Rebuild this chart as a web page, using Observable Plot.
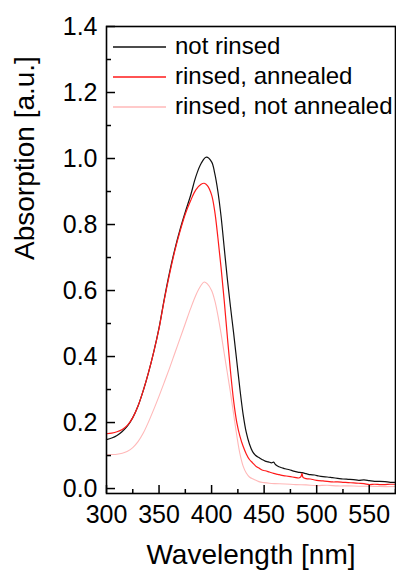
<!DOCTYPE html>
<html>
<head>
<meta charset="utf-8">
<script src="https://cdn.jsdelivr.net/npm/d3@7"></script>
<script src="https://cdn.jsdelivr.net/npm/@observablehq/plot@0.6"></script>
<style>
  html, body { margin: 0; padding: 0; background: #fff; }
  #wrap { position: relative; width: 396px; height: 574px; font-family: "Liberation Sans", Arial, sans-serif; }
  #legend { position: absolute; left: 113px; top: 31px; font-size: 24px; color: #000; }
  .row { position: relative; height: 30px; line-height: 30px; white-space: nowrap; }
  .sw { position: absolute; left: 0; top: 15px; width: 53px; height: 2px; overflow: visible; }
  .lb { position: absolute; left: 62px; top: 0; }
</style>
</head>
<body>
<div id="wrap"><div id="legend"></div></div>
<script>
// ---- data ----
const seriesNames = ["not rinsed", "rinsed, annealed", "rinsed, not annealed"];
const seriesColors = ["#111111", "#ff1a1a", "#ffb8b8"];

const notRinsedWl = [300,305,310,315,320,325,330,335,340,345,350,355,360,365,370,375,380,385,390,395,400,403,406,409,412,415,418,421,424,427,430,433,436,439,442,445,448,451,454,457,459,461,464,467,470,474,478,482,486,490,494,498,502,506,510,515,520,525,530,535,540,545,550,555,560,565,570,575];
const notRinsedA = [0.148,0.153,0.161,0.173,0.19,0.215,0.25,0.297,0.352,0.415,0.487,0.575,0.655,0.725,0.785,0.838,0.888,0.945,0.985,1.004,0.99,0.955,0.9,0.825,0.73,0.635,0.55,0.47,0.385,0.3,0.225,0.17,0.135,0.112,0.1,0.094,0.088,0.083,0.081,0.078,0.08,0.072,0.066,0.063,0.06,0.057,0.053,0.05,0.048,0.045,0.042,0.041,0.038,0.036,0.035,0.033,0.031,0.029,0.028,0.027,0.025,0.026,0.024,0.022,0.022,0.021,0.019,0.019];

const annealedWl = [300,305,310,315,320,325,330,335,340,345,350,355,360,365,370,375,380,385,390,393,396,400,403,406,409,412,415,418,421,424,427,430,433,436,439,442,445,448,451,455,459,463,467,471,475,479,483,485,486,487,490,494,498,502,506,510,515,520,525,530,535,540,545,550,555,560,565,570,575];
const annealedA = [0.166,0.168,0.172,0.179,0.192,0.215,0.25,0.297,0.352,0.414,0.485,0.572,0.65,0.72,0.78,0.832,0.872,0.905,0.922,0.925,0.918,0.89,0.84,0.76,0.67,0.57,0.46,0.355,0.265,0.2,0.158,0.128,0.105,0.088,0.078,0.068,0.062,0.056,0.054,0.05,0.046,0.043,0.04,0.038,0.036,0.034,0.032,0.036,0.046,0.034,0.03,0.029,0.026,0.024,0.023,0.022,0.02,0.02,0.019,0.018,0.017,0.016,0.015,0.012,0.013,0.012,0.012,0.013,0.013];

const notAnnealedWl = [300,305,310,315,320,325,330,335,340,345,350,355,360,365,370,375,380,385,390,393,396,400,403,406,409,412,415,418,421,424,427,430,433,436,440,445,450,455,460,470,480,490,500,510,520,530,540,550,560,575];
const notAnnealedA = [0.102,0.103,0.104,0.107,0.113,0.124,0.142,0.168,0.202,0.24,0.28,0.322,0.365,0.41,0.455,0.5,0.545,0.586,0.616,0.626,0.62,0.6,0.57,0.525,0.47,0.41,0.35,0.29,0.225,0.16,0.105,0.068,0.047,0.035,0.028,0.021,0.018,0.016,0.015,0.014,0.012,0.011,0.009,0.01,0.008,0.008,0.007,0.007,0.006,0.006];

const xMajorTicks = [300,350,400,450,500,550];
const xMinorTicks = [325,375,425,475,525,575];
const yMajorTicks = [0.0,0.2,0.4,0.6,0.8,1.0,1.2,1.4];
const yMinorTicks = [0.1,0.3,0.5,0.7,0.9,1.1,1.3];
const xTitle = "Wavelength [nm]";
const yTitle = "Absorption [a.u.]";

// ---- build ----
const wls = [notRinsedWl, annealedWl, notAnnealedWl];
const abs = [notRinsedA, annealedA, notAnnealedA];
const rows = [];
seriesNames.forEach((s, i) => wls[i].forEach((w, j) => rows.push({series: s, wl: w, a: abs[i][j]})));

const W = 396, H = 574;
const mL = 106, mR = 1, mT = 26, mB = 81;
const innerW = W - mL - mR, innerH = H - mT - mB;

const chart = Plot.plot({
  width: W, height: H,
  marginLeft: mL, marginRight: mR, marginTop: mT, marginBottom: mB,
  style: {fontFamily: "'Liberation Sans', Arial, sans-serif", fontSize: "25px", color: "#000", background: "#fff"},
  x: {domain: [300, 575]},
  y: {domain: [-0.015, 1.4]},
  color: {domain: seriesNames, range: seriesColors},
  marks: [
    Plot.line(rows.filter(d => d.series === seriesNames[2]), {x: "wl", y: "a", stroke: "series", strokeWidth: 1.1, curve: "catmull-rom"}),
    Plot.line(rows.filter(d => d.series === seriesNames[0]), {x: "wl", y: "a", stroke: "series", strokeWidth: 1.2, curve: "catmull-rom"}),
    Plot.line(rows.filter(d => d.series === seriesNames[1]), {x: "wl", y: "a", stroke: "series", strokeWidth: 1.2, curve: "catmull-rom"}),
    Plot.tickX(xMajorTicks, {x: d => d, stroke: "#000", strokeWidth: 1.5, insetTop: innerH - 8}),
    Plot.tickX(xMinorTicks, {x: d => d, stroke: "#000", strokeWidth: 1.5, insetTop: innerH - 4}),
    Plot.tickY(yMajorTicks, {y: d => d, stroke: "#000", strokeWidth: 1.5, insetRight: innerW - 9}),
    Plot.tickY(yMinorTicks, {y: d => d, stroke: "#000", strokeWidth: 1.5, insetRight: innerW - 5}),
    Plot.frame({stroke: "#000", strokeWidth: 1.6}),
    Plot.axisX(xMajorTicks, {tickSize: 0, tickPadding: 12, tickFormat: d => String(d), label: null, fontSize: 25}),
    Plot.axisY(yMajorTicks, {tickSize: 0, tickPadding: 9, tickFormat: d => d.toFixed(1), label: null, fontSize: 25}),
    Plot.text([xTitle], {text: d => d, frameAnchor: "bottom", dy: 70, fontSize: 28, lineAnchor: "bottom"}),
    Plot.text([yTitle], {text: d => d, frameAnchor: "left", dx: -81, rotate: -90, fontSize: 28})
  ]
});
document.getElementById("wrap").prepend(chart);

const legend = document.getElementById("legend");
seriesNames.forEach((s, i) => {
  const r = document.createElement("div");
  r.className = "row";
  const sw = document.createElement("div");
  sw.className = "sw";
  sw.innerHTML = `<svg width="53" height="2" style="display:block"><line x1="0" y1="1" x2="53" y2="1" stroke="${seriesColors[i]}" stroke-width="1.3"/></svg>`;
  const lb = document.createElement("div");
  lb.className = "lb";
  lb.textContent = s;
  r.appendChild(sw);
  r.appendChild(lb);
  legend.appendChild(r);
});
</script>
</body>
</html>
